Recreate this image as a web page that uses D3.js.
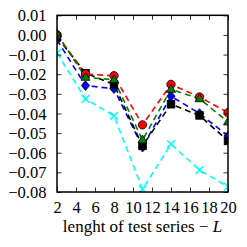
<!DOCTYPE html>
<html><head><meta charset="utf-8">
<script src="https://cdn.jsdelivr.net/npm/d3@7"></script>
<style>body{margin:0;background:#fff}svg{display:block}</style>
</head><body>
<script>
const xs = [2, 5, 8, 11, 14, 17, 20];
const redVals   = [0.000, -0.0199, -0.0208, -0.0458, -0.0252, -0.0316, -0.0396];
const greenVals = [0.0005, -0.0216, -0.0228, -0.0535, -0.0277, -0.0325, -0.0443];
const blueVals  = [-0.0025, -0.0258, -0.0274, -0.0572, -0.0312, -0.0400, -0.0515];
const blackVals = [-0.0010, -0.0195, -0.0252, -0.0565, -0.0353, -0.0410, -0.0540];
const cyanVals  = [-0.0092, -0.0326, -0.0412, -0.0786, -0.0556, -0.0688, -0.0773];
const xTicks = [2,4,6,8,10,12,14,16,18,20];
const yTicks = [0.01,0.00,-0.01,-0.02,-0.03,-0.04,-0.05,-0.06,-0.07,-0.08];

const W=247,H=247;
const m={l:57,t:15.3,r:228,b:192};
const svg=d3.select("body").append("svg").attr("width",W).attr("height",H);
const x=d3.scaleLinear().domain([2,20]).range([m.l,m.r]);
const y=d3.scaleLinear().domain([-0.08,0.01]).range([m.b,m.t]);
const font='"Liberation Serif", "DejaVu Serif", serif';
const fs=16.5;

const clip=svg.append("clipPath").attr("id","c").append("rect")
  .attr("x",m.l).attr("y",m.t).attr("width",m.r-m.l).attr("height",m.b-m.t);

const series=[
  {vals:cyanVals,color:"#00ffff",marker:"x"},
  {vals:blueVals,color:"#0000ff",marker:"D"},
  {vals:blackVals,color:"#000000",marker:"s"},
  {vals:redVals,color:"#ff0000",marker:"o"},
  {vals:greenVals,color:"#008000",marker:"^"}
];
const g=svg.append("g").attr("clip-path","url(#c)");
const line=d3.line().x((d,i)=>x(xs[i])).y(d=>y(d));
series.forEach(s=>{
  g.append("path").datum(s.vals).attr("d",line).attr("fill","none")
   .attr("stroke",s.color).attr("stroke-width",1.6).attr("stroke-dasharray","6,4");
});
series.forEach(s=>{
  s.vals.forEach((v,i)=>{
    const cx=x(xs[i]),cy=y(v);
    if(s.marker==="o"){
      g.append("circle").attr("cx",cx).attr("cy",cy).attr("r",4.2)
       .attr("fill",s.color).attr("stroke","#000").attr("stroke-width",0.8);
    } else if(s.marker==="s"){
      g.append("rect").attr("x",cx-3.8).attr("y",cy-3.8).attr("width",7.6).attr("height",7.6)
       .attr("fill",s.color).attr("stroke","#000").attr("stroke-width",0.8);
    } else if(s.marker==="D"){
      const r=4.8;
      g.append("path").attr("d",`M${cx},${cy-r}L${cx+r*0.85},${cy}L${cx},${cy+r}L${cx-r*0.85},${cy}Z`)
       .attr("fill",s.color).attr("stroke","#000").attr("stroke-width",0.8);
    } else if(s.marker==="^"){
      const r=5;
      g.append("path").attr("d",`M${cx},${cy-r}L${cx+r*0.9},${cy+r*0.6}L${cx-r*0.9},${cy+r*0.6}Z`)
       .attr("fill",s.color).attr("stroke","#000").attr("stroke-width",0.8);
    } else if(s.marker==="x"){
      const r=3.8;
      g.append("path").attr("d",`M${cx-r},${cy-r}L${cx+r},${cy+r}M${cx-r},${cy+r}L${cx+r},${cy-r}`)
       .attr("stroke",s.color).attr("stroke-width",1.5).attr("fill","none");
    }
  });
});

const fmt=d=>(d<0?"\u2212":"")+Math.abs(d).toFixed(2);
const axB=svg.append("g").attr("transform",`translate(0,${m.b})`)
  .call(d3.axisBottom(x).tickValues(xTicks).tickSizeInner(-4.5).tickSizeOuter(0).tickPadding(9.5).tickFormat(d3.format("d")));
const axT=svg.append("g").attr("transform",`translate(0,${m.t})`)
  .call(d3.axisTop(x).tickValues(xTicks).tickSizeInner(-4.5).tickSizeOuter(0).tickFormat(""));
const axL=svg.append("g").attr("transform",`translate(${m.l},0)`)
  .call(d3.axisLeft(y).tickValues(yTicks).tickSizeInner(-4.5).tickSizeOuter(0).tickPadding(10.5).tickFormat(fmt));
const axR=svg.append("g").attr("transform",`translate(${m.r},0)`)
  .call(d3.axisRight(y).tickValues(yTicks).tickSizeInner(-4.5).tickSizeOuter(0).tickFormat(""));
[axB,axT,axL,axR].forEach(a=>{
  a.select(".domain").remove();
  a.selectAll(".tick line").attr("stroke","#000").attr("stroke-width",0.8);
  a.selectAll("text").attr("font-family",font).attr("font-size",fs).attr("fill","#000");
});
axB.selectAll("text").attr("dy","0.71em");
axL.selectAll("text").attr("dy","0.34em");
svg.append("rect").attr("x",m.l).attr("y",m.t).attr("width",m.r-m.l).attr("height",m.b-m.t)
  .attr("fill","none").attr("stroke","#000").attr("stroke-width",1.5);

const lab=svg.append("text").attr("x",(m.l+m.r)/2).attr("y",232)
  .attr("text-anchor","middle").attr("font-family",font).attr("font-size",fs+0.5).attr("fill","#000");
lab.append("tspan").text("lenght of test series  \u2212 ");
lab.append("tspan").attr("font-style","italic").text("L");
</script>
</body></html>
